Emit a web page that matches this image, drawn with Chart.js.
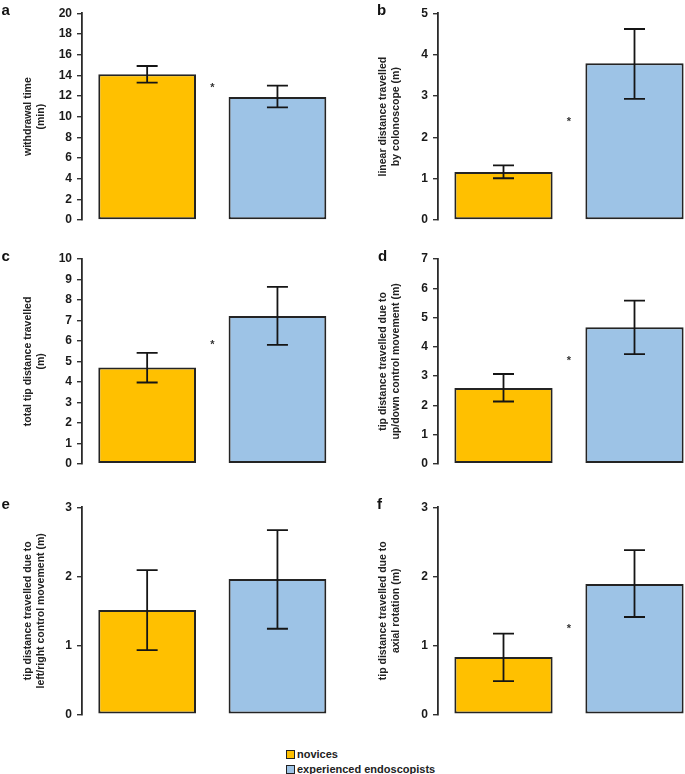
<!DOCTYPE html>
<html><head><meta charset="utf-8">
<script src="https://cdn.jsdelivr.net/npm/chart.js@4"></script>
<style>
html,body{margin:0;padding:0;background:#fff;overflow:hidden;}
#wrap{position:relative;width:685px;height:774px;overflow:hidden;background:#fff;}
canvas{position:absolute;}
.letter{position:absolute;font:bold 15px 'Liberation Sans',Arial,sans-serif;line-height:15px;color:#111;}
.leg{position:absolute;font:bold 11px 'Liberation Sans',Arial,sans-serif;color:#222;line-height:11px;white-space:nowrap;}
.sw{position:absolute;width:7px;height:7px;border:1.5px solid #222;}
</style></head><body><div id="wrap"></div>
<script>
// ---- data ----
const categories = ['novices', 'experienced endoscopists'];
const panelLetters = ['a', 'b', 'c', 'd', 'e', 'f'];
const yTitles = [
  ['withdrawal time', '(min)'],
  ['linear distance travelled', 'by colonoscope (m)'],
  ['total tip distance travelled', '(m)'],
  ['tip distance travelled due to', 'up/down control movement (m)'],
  ['tip distance travelled due to', 'left/right control movement (m)'],
  ['tip distance travelled due to', 'axial rotation (m)']
];
const yMax = [20, 5, 10, 7, 3, 3];
const yStep = [2, 1, 1, 1, 1, 1];
const novicesMean = [14.1, 1.16, 4.70, 2.59, 1.51, 0.83];
const novicesLow  = [13.3, 1.01, 3.97, 2.13, 0.93, 0.48];
const novicesHigh = [14.9, 1.32, 5.42, 3.07, 2.09, 1.17];
const expertMean  = [11.9, 3.79, 7.22, 4.67, 1.96, 1.89];
const expertLow   = [10.9, 2.93, 5.81, 3.75, 1.24, 1.41];
const expertHigh  = [13.0, 4.62, 8.64, 5.58, 2.67, 2.38];
const significanceMark = [13.0, 2.44, 5.9, 3.6, null, 1.27];

// ---- styles / layout ----
const barColors = ['#FFC000', '#9DC3E6'];
const FONT = "'Liberation Sans', Arial, sans-serif";
const frames = [
  {left: 0,   top: 0,   w: 345, h: 236, ct: 13.3,  cb: 220,   tx: 28,  lx: 1.5, ly: 2.3},
  {left: 356, top: 0,   w: 344, h: 236, ct: 13.3,  cb: 220,   tx: 383, lx: 377, ly: 2.3},
  {left: 0,   top: 240, w: 345, h: 236, ct: 259,   cb: 466.5, tx: 28,  lx: 1.5, ly: 248},
  {left: 356, top: 240, w: 344, h: 236, ct: 259,   cb: 466,   tx: 383, lx: 378, ly: 248},
  {left: 0,   top: 482, w: 345, h: 245, ct: 507.3, cb: 714.3, tx: 28,  lx: 1.5, ly: 496},
  {left: 356, top: 482, w: 344, h: 245, ct: 507.3, cb: 714.3, tx: 383, lx: 377, ly: 496}
];

const wrap = document.getElementById('wrap');

const errPlugin = {
  id: 'errbars',
  afterDatasetsDraw(chart, args, opts) {
    const ctx = chart.ctx;
    const y = chart.scales.y;
    const meta = chart.getDatasetMeta(0);
    ctx.save();
    ctx.strokeStyle = '#151515';
    ctx.lineWidth = 1.8;
    meta.data.forEach((bar, i) => {
      const lo = y.getPixelForValue(opts.low[i]);
      const hi = y.getPixelForValue(opts.high[i]);
      ctx.beginPath();
      ctx.moveTo(bar.x, lo); ctx.lineTo(bar.x, hi);
      ctx.moveTo(bar.x - 10.5, lo); ctx.lineTo(bar.x + 10.5, lo);
      ctx.moveTo(bar.x - 10.5, hi); ctx.lineTo(bar.x + 10.5, hi);
      ctx.stroke();
    });
    if (opts.sig !== null && opts.sig !== undefined) {
      const xm = (meta.data[0].x + meta.data[1].x) / 2;
      ctx.fillStyle = '#333';
      ctx.font = 'bold 11px ' + FONT;
      ctx.textAlign = 'center';
      ctx.textBaseline = 'middle';
      ctx.fillText('*', xm, y.getPixelForValue(opts.sig) + 2.5);
    }
    ctx.restore();
  }
};

frames.forEach((f, i) => {
  const cv = document.createElement('canvas');
  cv.width = f.w; cv.height = f.h;
  cv.style.left = f.left + 'px'; cv.style.top = f.top + 'px';
  cv.style.width = f.w + 'px'; cv.style.height = f.h + 'px';
  wrap.appendChild(cv);

  const lb = document.createElement('div');
  lb.className = 'letter';
  lb.textContent = panelLetters[i];
  lb.style.left = f.lx + 'px'; lb.style.top = f.ly + 'px';
  wrap.appendChild(lb);

  const axisRight = i % 2 === 0 ? 345 - 342.6 : 0;
  new Chart(cv, {
    type: 'bar',
    data: {
      labels: categories,
      datasets: [{
        data: [novicesMean[i], expertMean[i]],
        backgroundColor: barColors,
        borderColor: '#242424',
        borderWidth: 2,
        borderSkipped: false,
        barPercentage: 0.75,
        categoryPercentage: 1
      }]
    },
    options: {
      responsive: false,
      animation: false,
      devicePixelRatio: 1,
      layout: {padding: {left: 0, right: axisRight, top: f.ct - f.top, bottom: f.top + f.h - f.cb}},
      plugins: {
        legend: {display: false},
        tooltip: {enabled: false},
        errbars: {low: [novicesLow[i], expertLow[i]], high: [novicesHigh[i], expertHigh[i]], sig: significanceMark[i]}
      },
      scales: {
        x: {display: false},
        y: {
          min: 0, max: yMax[i],
          afterFit: (s) => { s.width = 82; },
          ticks: {stepSize: yStep[i], padding: 5, color: '#1a1a1a', font: {family: FONT, size: 12, weight: 'bold'}},
          grid: {display: true, drawOnChartArea: false, drawTicks: true, tickLength: 5, color: '#333', lineWidth: 1.4},
          border: {display: true, color: '#2a2a2a', width: 1.8},
          title: {
            display: true, text: yTitles[i], color: '#222',
            font: {family: FONT, size: 10.5, weight: 'bold', lineHeight: '13.5px'},
            padding: {top: f.tx - f.left - 6.75, bottom: 0}
          }
        }
      }
    },
    plugins: [errPlugin]
  });
});

// legend
categories.forEach((c, k) => {
  const sw = document.createElement('div');
  sw.className = 'sw';
  sw.style.background = barColors[k];
  sw.style.left = '286px'; sw.style.top = (750 + k * 15) + 'px';
  wrap.appendChild(sw);
  const t = document.createElement('div');
  t.className = 'leg';
  t.textContent = c;
  t.style.left = '297px'; t.style.top = (748.5 + k * 15) + 'px';
  wrap.appendChild(t);
});
</script></body></html>
